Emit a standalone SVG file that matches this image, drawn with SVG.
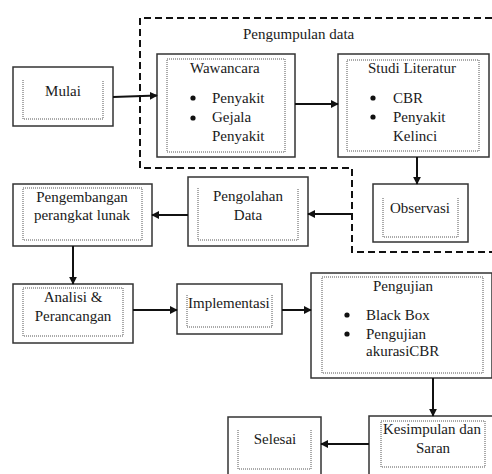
<svg xmlns="http://www.w3.org/2000/svg" width="492" height="474" viewBox="0 0 492 474">
<defs>
<style>
.box{fill:#fff;stroke:#333;stroke-width:1.5}
.dot{fill:none;stroke:#555;stroke-width:1;stroke-dasharray:1,1}
text{font-family:'Liberation Serif','Times New Roman','DejaVu Serif',serif;font-size:15px;fill:#1a1a1a}
.m{text-anchor:middle}
.ln{fill:none;stroke:#111;stroke-width:2}
.dash{fill:none;stroke:#111;stroke-width:2;stroke-dasharray:7,4}
</style>
<marker id="ah" viewBox="0 0 10 10" refX="9" refY="5" markerWidth="4" markerHeight="4" orient="auto" markerUnits="strokeWidth">
<path d="M0,0 L10,5 L0,10 z" fill="#111"/>
</marker>
</defs>
<rect width="492" height="474" fill="#fff"/>
<g font-family="Liberation Serif, Times New Roman, DejaVu Serif, serif" font-size="15">

<g id="container">
<path class="dash" d="M492,18 H140 V168 H352 V252 H492"/>
<text x="243" y="39">Pengumpulan data</text>
</g>

<g id="mulai">
<rect class="box" x="13" y="67" width="100" height="59"/>
<path class="dot" d="M23,80 V119 H103 V80"/>
<text class="m" x="63" y="96">Mulai</text>
</g>

<g id="wawancara">
<rect class="box" x="157" y="54" width="138" height="103"/>
<rect class="dot" x="167" y="59" width="118" height="93"/>
<text x="190" y="73">Wawancara</text>
<circle cx="193" cy="98" r="2.6" fill="#111"/>
<circle cx="193" cy="118" r="2.6" fill="#111"/>
<text x="212" y="103">Penyakit</text>
<text x="212" y="122">Gejala</text>
<text x="212" y="141">Penyakit</text>
</g>

<g id="studi">
<rect class="box" x="338" y="54" width="151" height="103"/>
<rect class="dot" x="347" y="60" width="132" height="91"/>
<text x="368" y="73">Studi Literatur</text>
<circle cx="373" cy="98" r="2.6" fill="#111"/>
<circle cx="373" cy="117" r="2.6" fill="#111"/>
<text x="393" y="103">CBR</text>
<text x="393" y="122">Penyakit</text>
<text x="393" y="141">Kelinci</text>
</g>

<g id="observasi">
<rect class="box" x="373" y="184" width="95" height="58"/>
<path class="dot" d="M383,198 V237 H458 V198"/>
<text class="m" x="420" y="213">Observasi</text>
</g>

<g id="pengolahan">
<rect class="box" x="188" y="177" width="120" height="69"/>
<path class="dot" d="M198,188 V240 H298 V188"/>
<text class="m" x="248" y="201">Pengolahan</text>
<text class="m" x="248" y="220">Data</text>
</g>

<g id="pengembangan">
<rect class="box" x="13" y="184" width="139" height="62"/>
<rect class="dot" x="23" y="188" width="119" height="52"/>
<text class="m" x="82" y="202">Pengembangan</text>
<text class="m" x="82" y="220">perangkat lunak</text>
</g>

<g id="analisi">
<rect class="box" x="13" y="284" width="120" height="59"/>
<rect class="dot" x="23" y="288" width="100" height="48"/>
<text class="m" x="73" y="302">Analisi &amp;</text>
<text class="m" x="73" y="321">Perancangan</text>
</g>

<g id="implementasi">
<rect class="box" x="177" y="284" width="105" height="50"/>
<path class="dot" d="M187,295 V327 H272 V295"/>
<text x="188" y="308">Implementasi</text>
</g>

<g id="pengujian">
<rect class="box" x="311" y="273" width="181" height="105"/>
<rect class="dot" x="322" y="277" width="161" height="96"/>
<text class="m" x="403" y="291">Pengujian</text>
<circle cx="347" cy="315" r="2.6" fill="#111"/>
<circle cx="347" cy="334" r="2.6" fill="#111"/>
<text x="366" y="320">Black Box</text>
<text x="366" y="339">Pengujian</text>
<text x="366" y="356">akurasiCBR</text>
</g>

<g id="kesimpulan">
<rect class="box" x="369" y="416" width="130" height="70"/>
<rect class="dot" x="381" y="421" width="104" height="46"/>
<text x="383" y="434">Kesimpulan dan</text>
<text class="m" x="433" y="453">Saran</text>
</g>

<g id="selesai">
<rect class="box" x="228" y="417" width="93" height="65"/>
<path class="dot" d="M238,430 V469 H311 V430"/>
<text class="m" x="275" y="444">Selesai</text>
</g>

</g>

<g id="connectors">
<path class="ln" d="M113,97 L157,95.5" marker-end="url(#ah)"/>
<path class="ln" d="M295,104 H338" marker-end="url(#ah)"/>
<path class="ln" d="M417,157 V184" marker-end="url(#ah)"/>
<path class="ln" d="M352,214 H308" marker-end="url(#ah)"/>
<path class="ln" d="M188,215 H152" marker-end="url(#ah)"/>
<path class="ln" d="M73,246 V284" marker-end="url(#ah)"/>
<path class="ln" d="M133,310 H177" marker-end="url(#ah)"/>
<path class="ln" d="M282,310 H311" marker-end="url(#ah)"/>
<path class="ln" d="M433,378 V416" marker-end="url(#ah)"/>
<path class="ln" d="M369,444 H321" marker-end="url(#ah)"/>
</g>
</svg>
